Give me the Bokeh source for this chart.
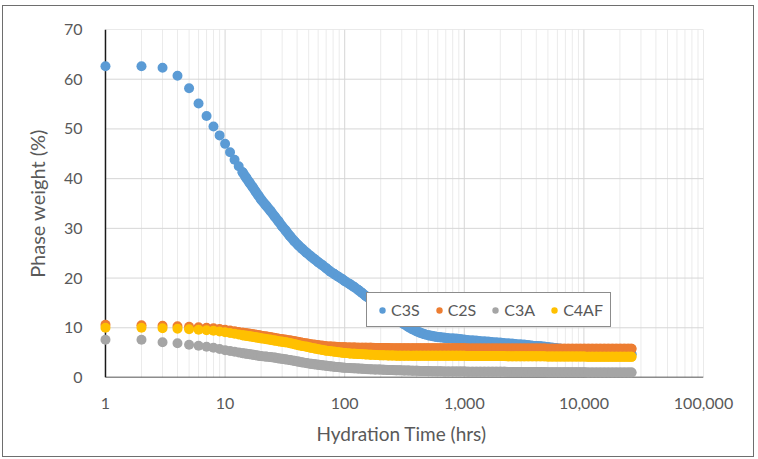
from bokeh.plotting import figure
from bokeh.models import Range1d, FixedTicker, Legend, LegendItem, Title
from bokeh.embed import file_html
from bokeh.resources import INLINE

# ---------------- data ----------------
hours = [
    1, 2, 3, 4, 5, 6, 7, 8, 9, 10,
    11, 12, 13, 14, 15, 16, 17, 18, 19, 20,
    22, 24, 26, 28, 30, 32, 35, 38, 41, 44,
    48, 52, 56, 60, 65, 70, 76, 82, 88, 95,
    100, 110, 120, 130, 140, 150, 165, 180, 195, 210,
    230, 250, 270, 290, 315, 340, 370, 400, 430, 465,
    500, 540, 580, 630, 680, 735, 800, 860, 930, 1000,
    1080, 1170, 1260, 1360, 1470, 1590, 1720, 1850, 2000, 2160,
    2330, 2520, 2720, 2940, 3170, 3430, 3700, 4000, 4320, 4670,
    5040, 5440, 5880, 6350, 6860, 7400, 8000, 8640, 9330, 10080,
    10900, 11750, 12700, 13700, 14800, 16000, 17300, 18650, 20150, 21750,
    23500, 25000,
]

c3s = [
    62.6, 62.6, 62.3, 60.7, 58.2, 55.1, 52.6, 50.5, 48.7, 47.0,
    45.3, 43.8, 42.5, 41.3, 40.2, 39.2, 38.3, 37.4, 36.6, 35.8,
    34.6, 33.5, 32.4, 31.4, 30.4, 29.6, 28.4, 27.4, 26.6, 25.9,
    25.1, 24.4, 23.8, 23.2, 22.6, 22.0, 21.3, 20.8, 20.3, 19.8,
    19.4, 18.8, 18.2, 17.6, 17.0, 16.4, 15.7, 15.1, 14.5, 13.9,
    13.2, 12.5, 11.9, 11.3, 10.7, 10.2, 9.7, 9.3, 9.0, 8.7,
    8.5, 8.35, 8.2, 8.1, 8.0, 7.9, 7.85, 7.8, 7.7, 7.6,
    7.5, 7.45, 7.4, 7.3, 7.25, 7.2, 7.1, 7.05, 7.0, 6.9,
    6.85, 6.8, 6.7, 6.65, 6.6, 6.5, 6.4, 6.35, 6.3, 6.2,
    6.1, 6.0, 5.9, 5.8, 5.7, 5.65, 5.6, 5.5, 5.45, 5.4,
    5.3, 5.25, 5.2, 5.1, 5.05, 5.0, 4.95, 4.9, 4.85, 4.8,
    4.75, 4.7,
]

c2s = [
    10.6, 10.5, 10.4, 10.3, 10.2, 10.1, 10.0, 9.9, 9.75, 9.6,
    9.45, 9.3, 9.15, 9.0, 8.9, 8.8, 8.7, 8.6, 8.5, 8.4,
    8.25, 8.1, 7.95, 7.8, 7.7, 7.6, 7.45, 7.3, 7.15, 7.0,
    6.85, 6.7, 6.6, 6.5, 6.4, 6.3, 6.25, 6.2, 6.15, 6.1,
    6.1, 6.05, 6.05, 6.0, 6.0, 6.0, 6.0, 5.95, 5.95, 5.95,
    5.95, 5.9, 5.9, 5.9, 5.9, 5.9, 5.9, 5.9, 5.9, 5.9,
    5.9, 5.9, 5.9, 5.9, 5.9, 5.9, 5.9, 5.9, 5.9, 5.9,
    5.85, 5.85, 5.85, 5.85, 5.85, 5.85, 5.85, 5.85, 5.85, 5.85,
    5.85, 5.85, 5.85, 5.85, 5.85, 5.85, 5.85, 5.85, 5.85, 5.85,
    5.8, 5.8, 5.8, 5.8, 5.8, 5.8, 5.8, 5.8, 5.8, 5.8,
    5.8, 5.8, 5.8, 5.8, 5.8, 5.8, 5.8, 5.8, 5.8, 5.8,
    5.8, 5.8,
]

c3a = [
    7.6, 7.6, 7.1, 6.9, 6.6, 6.4, 6.2, 6.0, 5.75, 5.5,
    5.35, 5.2, 5.05, 4.9, 4.8, 4.7, 4.6, 4.5, 4.4, 4.3,
    4.2, 4.1, 4.0, 3.85, 3.75, 3.65, 3.5, 3.35, 3.2, 3.05,
    2.9, 2.75, 2.65, 2.55, 2.45, 2.35, 2.25, 2.15, 2.1, 2.0,
    1.95, 1.9, 1.85, 1.8, 1.75, 1.7, 1.65, 1.6, 1.6, 1.55,
    1.5, 1.5, 1.45, 1.45, 1.4, 1.4, 1.35, 1.35, 1.3, 1.3,
    1.3, 1.25, 1.25, 1.25, 1.2, 1.2, 1.2, 1.2, 1.2, 1.2,
    1.15, 1.15, 1.15, 1.15, 1.15, 1.15, 1.15, 1.15, 1.15, 1.15,
    1.1, 1.1, 1.1, 1.1, 1.1, 1.1, 1.1, 1.1, 1.1, 1.1,
    1.05, 1.05, 1.05, 1.05, 1.05, 1.05, 1.05, 1.05, 1.05, 1.05,
    1.0, 1.0, 1.0, 1.0, 1.0, 1.0, 1.0, 1.0, 1.0, 1.0,
    1.0, 1.0,
]

c4af = [
    10.0, 10.0, 9.9, 9.8, 9.7, 9.6, 9.5, 9.4, 9.25, 9.1,
    8.95, 8.8, 8.65, 8.5, 8.4, 8.3, 8.2, 8.1, 8.0, 7.9,
    7.75, 7.6, 7.45, 7.3, 7.2, 7.1, 6.9, 6.7, 6.5, 6.35,
    6.2, 6.0, 5.85, 5.7, 5.55, 5.4, 5.3, 5.2, 5.1, 5.0,
    4.95, 4.85, 4.8, 4.75, 4.7, 4.65, 4.6, 4.55, 4.5, 4.5,
    4.45, 4.45, 4.4, 4.4, 4.4, 4.4, 4.35, 4.35, 4.35, 4.35,
    4.35, 4.35, 4.35, 4.35, 4.35, 4.35, 4.35, 4.35, 4.35, 4.35,
    4.3, 4.3, 4.3, 4.3, 4.3, 4.3, 4.3, 4.3, 4.3, 4.3,
    4.25, 4.25, 4.25, 4.25, 4.25, 4.25, 4.25, 4.25, 4.25, 4.25,
    4.2, 4.2, 4.2, 4.2, 4.2, 4.2, 4.2, 4.2, 4.2, 4.2,
    4.15, 4.15, 4.15, 4.15, 4.15, 4.15, 4.15, 4.15, 4.15, 4.15,
    4.15, 4.15,
]

series_names = ["C3S", "C2S", "C3A", "C4AF"]
series_values = [c3s, c2s, c3a, c4af]
series_colors = ["#5B9BD5", "#ED7D31", "#A5A5A5", "#FFC000"]

y_ticks = [0, 10, 20, 30, 40, 50, 60, 70]
x_ticks = [1, 10, 100, 1000, 10000, 100000]
x_tick_labels = ["1", "10", "100", "1,000", "10,000", "100,000"]
x_title = "Hydration Time (hrs)"
y_title = "Phase weight (%)"

# ---------------- figure ----------------
FONT = "Lato"
TXT = "#595959"

p = figure(
    width=752, height=452,
    x_axis_type="log",
    x_range=Range1d(10 ** -0.05, x_ticks[-1]),
    y_range=Range1d(y_ticks[0], y_ticks[-1]),
    output_backend="svg", toolbar_location=None,
    min_border_left=96, min_border_right=52,
    min_border_top=23, min_border_bottom=81,
)
p.styles = {"border": "1px solid #6e6e6e", "margin-left": "2px", "margin-top": "5px"}
p.outline_line_color = None
p.background_fill_color = "white"
p.border_fill_color = "white"
p.xgrid.visible = False
p.ygrid.visible = False

# gridlines (from the tick arrays), starting at the vertical axis x = 1
minor_x = [m * 10 ** d for d in range(5) for m in range(2, 10)]
p.segment(x0=minor_x, y0=y_ticks[0], x1=minor_x, y1=y_ticks[-1],
          line_color="#ebebeb", line_width=1)
p.segment(x0=x_ticks[1:], y0=y_ticks[0], x1=x_ticks[1:], y1=y_ticks[-1],
          line_color="#d6d6d6", line_width=1)
p.segment(x0=x_ticks[0], y0=y_ticks[1:], x1=x_ticks[-1], y1=y_ticks[1:],
          line_color="#d6d6d6", line_width=1)

# axis lines
p.segment(x0=[x_ticks[0]], y0=[y_ticks[0]], x1=[x_ticks[0]], y1=[y_ticks[-1]],
          line_color="#1a1a1a", line_width=1.5)
p.segment(x0=[x_ticks[0]], y0=[y_ticks[0]], x1=[x_ticks[-1]], y1=[y_ticks[0]],
          line_color="#1a1a1a", line_width=1.5)

# the dense hourly markers merge into a continuous band from ~14 h on
DENSE_FROM = 13
renderers = []
for name, vals, col in zip(series_names, series_values, series_colors):
    p.line(hours[DENSE_FROM:], vals[DENSE_FROM:], line_width=10, line_color=col,
           line_cap="round", line_join="round")
    r = p.scatter(hours, vals, size=10, marker="circle",
                  fill_color=col, line_color=None)
    renderers.append(r)

# axes
p.xaxis.ticker = FixedTicker(ticks=x_ticks, minor_ticks=[])
p.xaxis.major_label_overrides = {t: l for t, l in zip(x_ticks, x_tick_labels)}
p.yaxis.ticker = FixedTicker(ticks=y_ticks, minor_ticks=[])
for ax in (p.xaxis[0], p.yaxis[0]):
    ax.axis_line_color = None
    ax.major_tick_line_color = None
    ax.minor_tick_line_color = None
    ax.major_label_text_font = FONT
    ax.major_label_text_font_size = "16px"
    ax.major_label_text_color = TXT
    ax.axis_label_text_font = FONT
    ax.axis_label_text_font_size = "19px"
    ax.axis_label_text_font_style = "normal"
    ax.axis_label_text_color = TXT

p.xaxis.axis_label = x_title
p.xaxis.major_label_standoff = 14
p.xaxis.axis_label_standoff = 10
p.yaxis.major_label_standoff = 11

# y title as a side title so it can sit a little below the plot-area centre
p.add_layout(Title(
    text=y_title, align="center", offset=-13, standoff=23,
    text_font=FONT, text_font_size="20px", text_font_style="normal",
    text_color=TXT,
), "left")

legend = Legend(
    items=[LegendItem(label=n, renderers=[r]) for n, r in zip(series_names, renderers)],
    orientation="horizontal",
    location=(267, 50),
    border_line_color="#1a1a1a", border_line_width=1.5,
    background_fill_color="white", background_fill_alpha=1.0,
    label_text_font=FONT, label_text_font_size="16px", label_text_color=TXT,
    glyph_width=16, glyph_height=16, label_standoff=1, spacing=11,
    padding=7, margin=0,
)
p.add_layout(legend)

open("out.html", "w").write(file_html(p, INLINE))
